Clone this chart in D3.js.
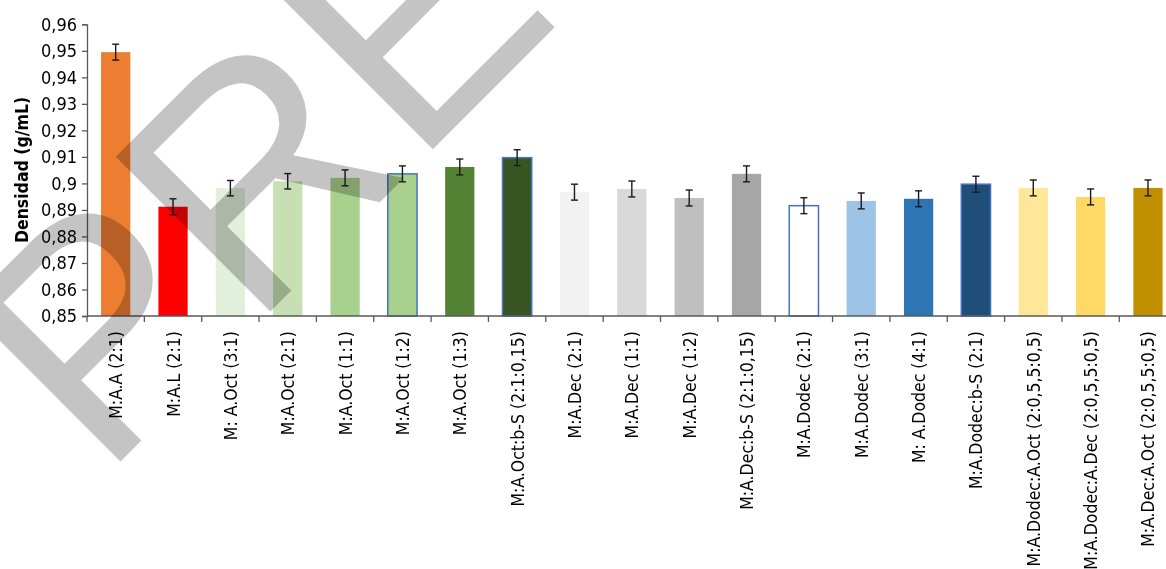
<!DOCTYPE html>
<html>
<head>
<meta charset="utf-8">
<script src="https://cdn.jsdelivr.net/npm/d3@7"></script>
<style>
  body { margin: 0; background: #fff; }
  svg { display: block; }
  text { font-family: "Liberation Sans Narrow", "DejaVu Sans Condensed", "Open Sans", sans-serif; }
</style>
</head>
<body>
<svg id="chart" width="1166" height="569"></svg>
<script>
// categories along the x axis
var muestras = [
  "M:A.A (2:1)", "M:A.L (2:1)", "M: A.Oct (3:1)", "M:A.Oct (2:1)", "M:A.Oct (1:1)",
  "M:A.Oct (1:2)", "M:A.Oct (1:3)", "M:A.Oct:b-S (2:1:0,15)", "M:A.Dec (2:1)", "M:A.Dec (1:1)",
  "M:A.Dec (1:2)", "M:A.Dec:b-S (2:1:0,15)", "M:A.Dodec (2:1)", "M:A.Dodec (3:1)", "M: A.Dodec (4:1)",
  "M:A.Dodec:b-S (2:1)", "M:A.Dodec:A.Oct (2:0,5,5:0,5)", "M:A.Dodec:A.Dec (2:0,5,5:0,5)", "M:A.Dec:A.Oct (2:0,5,5:0,5)"
];
// density values (g/mL)
var densidad = [
  0.9495, 0.8912, 0.8982, 0.9008, 0.9021,
  0.9036, 0.9062, 0.9097, 0.8967, 0.8979,
  0.8945, 0.9036, 0.8916, 0.8934, 0.8942,
  0.8997, 0.8983, 0.8949, 0.8983
];
// error (+/-)
var error = [
  0.003, 0.003, 0.0029, 0.0029, 0.003,
  0.003, 0.003, 0.003, 0.003, 0.003,
  0.003, 0.003, 0.003, 0.003, 0.003,
  0.003, 0.003, 0.003, 0.003
];
var colores = [
  "#ED7D31", "#FF0000", "#E2EFDA", "#C6E0B4", "#A9D18E",
  "#A9D18E", "#548235", "#375623", "#F2F2F2", "#D9D9D9",
  "#BFBFBF", "#A6A6A6", "#FFFFFF", "#9DC3E6", "#2E75B6",
  "#1F4E79", "#FFE699", "#FFD966", "#BF9000"
];
// bars that have the blue outline
var conBorde = [5, 7, 12, 15];
var yTicks = [0.85, 0.86, 0.87, 0.88, 0.89, 0.9, 0.91, 0.92, 0.93, 0.94, 0.95, 0.96];

var svg = d3.select("#chart");
var mLeft = 87, mTop = 24.3, mBottom = 316;
var step = 57.35;

var x = d3.scaleBand()
  .domain(muestras)
  .range([mLeft, mLeft + step * muestras.length])
  .paddingInner(0.49)
  .paddingOuter(0.245);

var y = d3.scaleLinear().domain([0.85, 0.96]).range([mBottom, mTop]);

var data = muestras.map((m, i) => ({ name: m, v: densidad[i], e: error[i], c: colores[i], borde: conBorde.indexOf(i) >= 0 }));

// bars
svg.append("g").selectAll("rect")
  .data(data)
  .enter().append("rect")
  .attr("x", d => x(d.name))
  .attr("y", d => y(d.v))
  .attr("width", x.bandwidth())
  .attr("height", d => mBottom - y(d.v))
  .attr("fill", d => d.c)
  .attr("stroke", d => d.borde ? "#4472C4" : "none")
  .attr("stroke-width", 1.5);

// error bars
var eb = svg.append("g").attr("stroke", "#1a1a1a").attr("stroke-width", 1.4);
data.forEach(d => {
  var cx = x(d.name) + x.bandwidth() / 2;
  eb.append("line").attr("x1", cx).attr("x2", cx).attr("y1", y(d.v + d.e)).attr("y2", y(d.v - d.e));
  eb.append("line").attr("x1", cx - 3.5).attr("x2", cx + 3.5).attr("y1", y(d.v + d.e)).attr("y2", y(d.v + d.e));
  eb.append("line").attr("x1", cx - 3.5).attr("x2", cx + 3.5).attr("y1", y(d.v - d.e)).attr("y2", y(d.v - d.e));
});

// y axis
var yAxis = svg.append("g")
  .attr("transform", "translate(" + mLeft + ",0)")
  .call(d3.axisLeft(y).tickValues(yTicks).tickSize(5).tickPadding(5)
    .tickFormat(d => String(+d.toFixed(2)).replace(".", ",")));
yAxis.select(".domain").attr("stroke", "#595959").attr("stroke-width", 1.3);
yAxis.selectAll(".tick line").attr("stroke", "#595959").attr("stroke-width", 1.3);
yAxis.selectAll(".tick text").attr("font-size", 18).attr("fill", "#000")
  .style("font-family", "'Liberation Sans Narrow', 'DejaVu Sans Condensed', sans-serif");

// x axis line and ticks at category boundaries
var xg = svg.append("g").attr("stroke", "#595959").attr("stroke-width", 1.3);
xg.append("line").attr("x1", mLeft).attr("x2", mLeft + step * muestras.length).attr("y1", mBottom).attr("y2", mBottom);
muestras.forEach(m => {
  var bx = x(m) + x.bandwidth() / 2 - x.step() / 2;
  xg.append("line").attr("x1", bx).attr("x2", bx).attr("y1", mBottom).attr("y2", mBottom + 6);
});

// x labels, rotated
svg.append("g").selectAll("text")
  .data(muestras)
  .enter().append("text")
  .attr("transform", d => "translate(" + (x(d) + x.bandwidth() / 2 + 6.5) + "," + (mBottom + 15) + ") rotate(-90)")
  .attr("text-anchor", "end")
  .attr("font-size", 17.5)
  .attr("fill", "#000")
  .text(d => d);

// y title
svg.append("text")
  .attr("transform", "translate(28,170) rotate(-90)")
  .attr("text-anchor", "middle")
  .attr("font-size", 17.5)
  .attr("font-weight", "bold")
  .attr("fill", "#000")
  .text("Densidad (g/mL)");

// watermark
svg.append("text")
  .attr("transform", "translate(102,480) rotate(-45)")
  .attr("font-size", 318)
  .attr("fill", "#c4c4c4")
  .style("mix-blend-mode", "multiply")
  .style("font-family", "'Liberation Sans', Arial, sans-serif")
  .text("PREVIEW");
</script>
</body>
</html>
